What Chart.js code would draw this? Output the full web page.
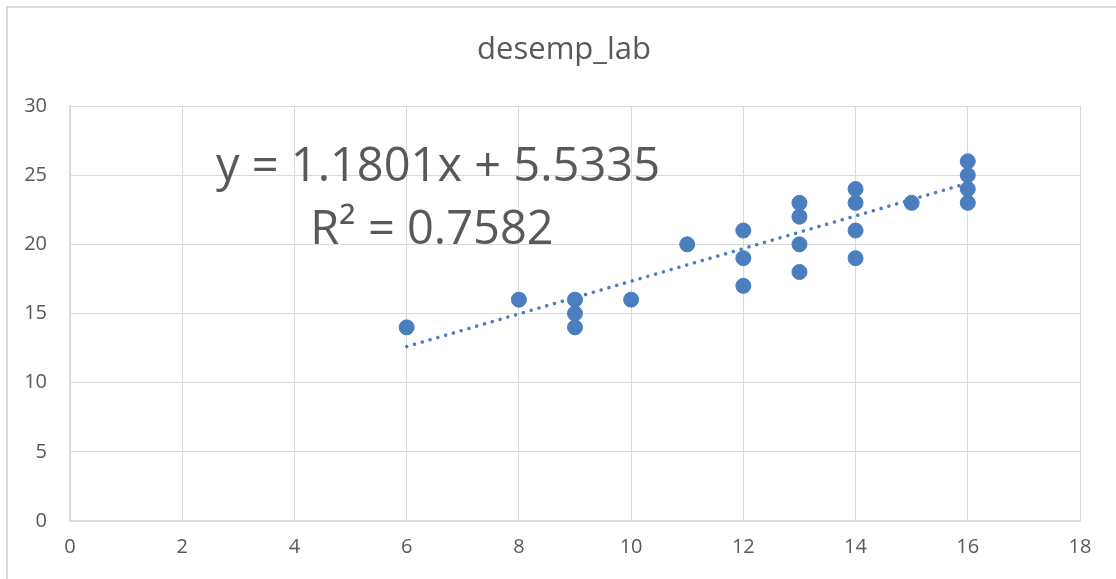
<!DOCTYPE html>
<html lang="es">
<head>
    <meta charset="UTF-8">
    <title>desemp_lab</title>
    <style>
        html, body { margin: 0; padding: 0; background: #fff; }
        .chart-box { position: relative; width: 1116px; height: 579px; }
    </style>
</head>
<body>

<div class="chart-box">
    <canvas id="scatterChart" width="1116" height="579"></canvas>
</div>

<script src="https://cdn.jsdelivr.net/npm/chart.js"></script>
<script>
    // Datos
    const xValues = [6, 8, 9, 9, 9, 10, 11, 12, 12, 12, 13, 13, 13, 13, 14, 14, 14, 14, 15, 16, 16, 16, 16];
    const yValues = [14, 16, 16, 15, 14, 16, 20, 21, 19, 17, 23, 22, 20, 18, 24, 23, 21, 19, 23, 26, 25, 24, 23];

    // Línea de tendencia (extremos)
    const trendX = [6, 16];
    const trendY = [12.61, 24.42];

    const chartTitle = 'desemp_lab';
    const equationLines = ['y = 1.1801x + 5.5335', 'R² = 0.7582'];

    const xTicks = [0, 2, 4, 6, 8, 10, 12, 14, 16, 18];
    const yTicks = [0, 5, 10, 15, 20, 25, 30];

    const textGray = '#595959';
    const gridGray = '#D9D9D9';
    const blue = '#4A7EBF';
    const fontFamily = "'Open Sans', 'Noto Sans', sans-serif";

    const points = xValues.map((x, i) => ({ x: x, y: yValues[i] }));
    const trendPoints = trendX.map((x, i) => ({ x: x, y: trendY[i] }));

    // marco exterior, título y ecuación
    const extras = {
        id: 'extras',
        beforeDraw(chart) {
            const c = chart.ctx;
            c.save();
            c.fillStyle = '#fff';
            c.fillRect(0, 0, chart.width, chart.height);
            c.strokeStyle = gridGray;
            c.lineWidth = 2;
            c.beginPath();
            c.moveTo(7, chart.height);
            c.lineTo(7, 7);
            c.lineTo(chart.width, 7);
            c.stroke();

            c.fillStyle = textGray;
            c.textAlign = 'center';
            c.textBaseline = 'middle';
            c.font = '31px ' + fontFamily;
            c.fillText(chartTitle, 564, 50);
            c.restore();
        },
        afterDatasetsDraw(chart) {
            const c = chart.ctx;
            const area = chart.chartArea;
            c.save();
            c.fillStyle = textGray;
            c.textAlign = 'center';
            c.textBaseline = 'alphabetic';
            c.font = '47px ' + fontFamily;
            const cx = area.left + 368;
            c.fillText(equationLines[0], cx, area.top + 75);
            c.fillText(equationLines[1], cx - 6, area.top + 138);
            c.restore();
        }
    };

    const ctx = document.getElementById('scatterChart').getContext('2d');
    const scatterChart = new Chart(ctx, {
        type: 'scatter',
        data: {
            datasets: [{
                label: 'desemp_lab',
                data: points,
                backgroundColor: blue,
                borderColor: blue,
                borderWidth: 1,
                pointRadius: 7.5,
                pointHoverRadius: 7.5,
                order: 1
            }, {
                label: 'Lineal',
                type: 'line',
                data: trendPoints,
                borderColor: blue,
                borderWidth: 3.5,
                borderDash: [0.1, 8],
                borderCapStyle: 'round',
                pointRadius: 0,
                fill: false,
                order: 2
            }]
        },
        options: {
            responsive: false,
            animation: false,
            layout: {
                padding: { left: 10, right: 36, top: 106, bottom: 12 }
            },
            plugins: {
                legend: { display: false },
                tooltip: { enabled: false },
                title: { display: false }
            },
            scales: {
                x: {
                    type: 'linear',
                    min: 0,
                    max: 18,
                    afterBuildTicks(scale) { scale.ticks = xTicks.map(v => ({ value: v })); },
                    afterFit(scale) { scale.height = 46; },
                    grid: { color: gridGray, lineWidth: 1, drawTicks: false },
                    border: { color: gridGray, width: 1.5 },
                    ticks: {
                        color: textGray,
                        padding: 14,
                        font: { family: fontFamily, size: 20 }
                    }
                },
                y: {
                    type: 'linear',
                    min: 0,
                    max: 30,
                    afterBuildTicks(scale) { scale.ticks = yTicks.map(v => ({ value: v })); },
                    afterFit(scale) { scale.width = 60; },
                    grid: { color: gridGray, lineWidth: 1, drawTicks: false },
                    border: { color: gridGray, width: 1.5 },
                    ticks: {
                        color: textGray,
                        padding: 23,
                        font: { family: fontFamily, size: 20 }
                    }
                }
            }
        },
        plugins: [extras]
    });
</script>

</body>
</html>
